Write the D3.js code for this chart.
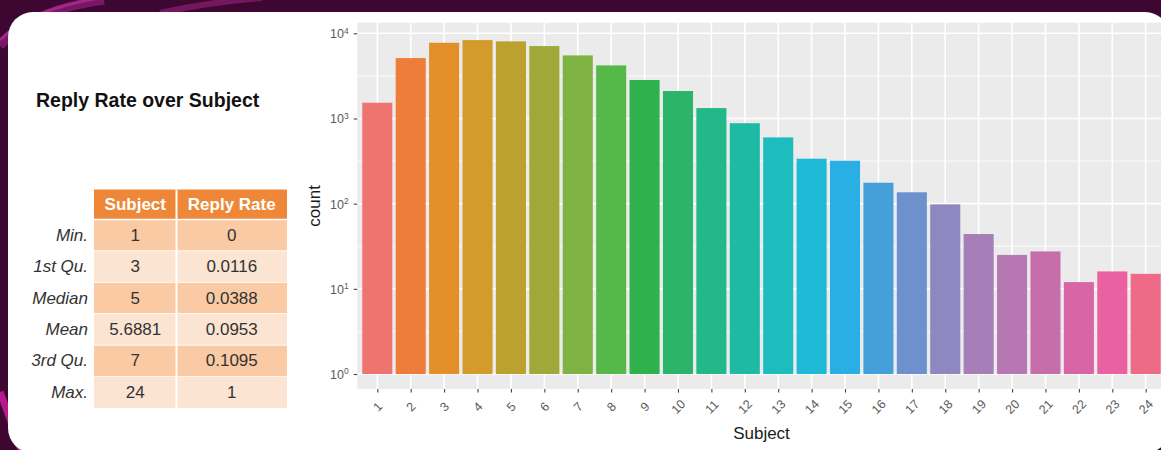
<!DOCTYPE html>
<html>
<head>
<meta charset="utf-8">
<script src="https://cdn.jsdelivr.net/npm/d3@7"></script>
<style>
  html, body { margin: 0; padding: 0; background: #3E0731; }
  svg { display: block; font-family: "Liberation Sans", Arial, sans-serif; }
</style>
</head>
<body>
<svg id="chart" width="1161" height="450"></svg>
<script>
// ---------------- data ----------------
const subjects = ["1","2","3","4","5","6","7","8","9","10","11","12","13","14","15","16","17","18","19","20","21","22","23","24"];
const counts = [1530, 5120, 7740, 8320, 8040, 7080, 5500, 4200, 2830, 2100, 1325, 880, 600, 337, 319, 176, 136, 98, 44, 25, 27.5, 12, 16, 15];
const yTickValues = [1, 10, 100, 1000, 10000];
const yTickExponents = ["0", "1", "2", "3", "4"];

const chartTitle = "Reply Rate over Subject";
const tableHeader = ["Subject", "Reply Rate"];
const statLabels = ["Min.", "1st Qu.", "Median", "Mean", "3rd Qu.", "Max."];
const statSubject = ["1", "3", "5", "5.6881", "7", "24"];
const statReply = ["0", "0.0116", "0.0388", "0.0953", "0.1095", "1"];

// bar colours as seen in the picture (ggplot hue palette, slightly muted)
const palette = ["#EF7470", "#EE7D3B", "#E3902A", "#D29B2B", "#BBA130", "#A0A83A",
                 "#7EB243", "#55B848", "#2FB24D", "#2BB46A", "#23B78A", "#1EBAA4",
                 "#1CBDBC", "#1FBAD6", "#2AAFE4", "#45A0DA", "#6D91CD", "#8F87C0",
                 "#A67EB8", "#B777B2", "#C66EAA", "#D866A6", "#EA60A0", "#EE6A86"];

// ---------------- svg ----------------
const svg = d3.select("#chart");
const W = 1161, H = 450;

// background decoration
svg.append("rect").attr("width", W).attr("height", H).attr("fill", "#3E0731");
svg.append("path").attr("d", "M0,46 C18,24 48,8 104,0").attr("fill", "none")
  .attr("stroke", "#7E1A69").attr("stroke-width", 9).attr("opacity", 0.9);
svg.append("path").attr("d", "M0,40 C20,20 50,6 100,-2").attr("fill", "none")
  .attr("stroke", "#A3288A").attr("stroke-width", 3);
svg.append("path").attr("d", "M160,13 C195,5 225,1 262,-2").attr("fill", "none")
  .attr("stroke", "#73175F").attr("stroke-width", 6);
svg.append("path").attr("d", "M0,392 C8,412 14,432 22,452").attr("fill", "none")
  .attr("stroke", "#B8198A").attr("stroke-width", 7);

// white card
svg.append("rect").attr("x", 8).attr("y", 12).attr("width", 1162).attr("height", 441)
  .attr("rx", 25).attr("fill", "#FFFFFF");

// ---------------- title ----------------
svg.append("text").attr("x", 36).attr("y", 107)
  .attr("font-size", 19.5).attr("font-weight", "bold").attr("fill", "#111")
  .text(chartTitle);

// ---------------- summary table ----------------
const tX0 = 94, tX1 = 176.5, tX2 = 287;
const headerTop = 189.5, headerH = 30, rowH = 31.4;
const tbl = svg.append("g");
tbl.append("rect").attr("x", tX0).attr("y", headerTop).attr("width", tX2 - tX0).attr("height", headerH)
  .attr("fill", "#EE8838");
tableHeader.forEach((h, i) => {
  const cx = i === 0 ? (tX0 + tX1) / 2 : (tX1 + tX2) / 2;
  tbl.append("text").attr("x", cx).attr("y", headerTop + headerH / 2)
    .attr("text-anchor", "middle").attr("dominant-baseline", "central")
    .attr("font-size", 17).attr("font-weight", "bold").attr("fill", "#FFFFFF").text(h);
});
statLabels.forEach((lab, i) => {
  const y0 = headerTop + headerH + i * rowH;
  tbl.append("rect").attr("x", tX0).attr("y", y0).attr("width", tX2 - tX0).attr("height", rowH)
    .attr("fill", i % 2 === 0 ? "#F9CAA3" : "#FCE4D2");
  tbl.append("text").attr("x", 88).attr("y", y0 + rowH / 2)
    .attr("text-anchor", "end").attr("dominant-baseline", "central")
    .attr("font-size", 17).attr("font-style", "italic").attr("fill", "#333").text(lab);
  tbl.append("text").attr("x", (tX0 + tX1) / 2).attr("y", y0 + rowH / 2)
    .attr("text-anchor", "middle").attr("dominant-baseline", "central")
    .attr("font-size", 17).attr("fill", "#333").text(statSubject[i]);
  tbl.append("text").attr("x", (tX1 + tX2) / 2).attr("y", y0 + rowH / 2)
    .attr("text-anchor", "middle").attr("dominant-baseline", "central")
    .attr("font-size", 17).attr("fill", "#333").text(statReply[i]);
  if (i > 0) {
    tbl.append("line").attr("x1", tX0).attr("x2", tX2).attr("y1", y0).attr("y2", y0)
      .attr("stroke", "#FFF3EA").attr("stroke-width", 1.2);
  }
});
tbl.append("line").attr("x1", tX1).attr("x2", tX1).attr("y1", headerTop)
  .attr("y2", headerTop + headerH + statLabels.length * rowH)
  .attr("stroke", "#FFFFFF").attr("stroke-width", 2);
tbl.append("line").attr("x1", tX0).attr("x2", tX2).attr("y1", headerTop + headerH).attr("y2", headerTop + headerH)
  .attr("stroke", "#FFFFFF").attr("stroke-width", 1.5);

// ---------------- bar chart ----------------
const firstX = 377.3, lastX = 1145.7;
const x = d3.scalePoint().domain(subjects).range([firstX, lastX]);
const step = x.step();
const panelLeft = firstX - 0.6 * step, panelRight = lastX + 0.6 * step;
const panelTop = 22.7, panelBottom = 389;
const y = d3.scaleLog().domain([Math.pow(10, -0.176), Math.pow(10, 4.1245)]).range([panelBottom, panelTop]);

const plot = svg.append("g");
plot.append("rect").attr("x", panelLeft).attr("y", panelTop)
  .attr("width", panelRight - panelLeft).attr("height", panelBottom - panelTop).attr("fill", "#EBEBEB");

// minor horizontal gridlines (half decades)
const minorVals = yTickValues.slice(0, -1).map(v => v * Math.sqrt(10));
plot.selectAll("line.minor").data(minorVals).join("line").attr("class", "minor")
  .attr("x1", panelLeft).attr("x2", panelRight).attr("y1", d => y(d)).attr("y2", d => y(d))
  .attr("stroke", "#FFFFFF").attr("stroke-width", 0.8);
// major horizontal gridlines
plot.selectAll("line.majorh").data(yTickValues).join("line").attr("class", "majorh")
  .attr("x1", panelLeft).attr("x2", panelRight).attr("y1", d => y(d)).attr("y2", d => y(d))
  .attr("stroke", "#FFFFFF").attr("stroke-width", 1.6);
// vertical gridlines
plot.selectAll("line.majorv").data(subjects).join("line").attr("class", "majorv")
  .attr("x1", d => x(d)).attr("x2", d => x(d)).attr("y1", panelTop).attr("y2", panelBottom)
  .attr("stroke", "#FFFFFF").attr("stroke-width", 1.6);

// bars
const barW = step * 0.9;
plot.selectAll("rect.bar").data(subjects).join("rect").attr("class", "bar")
  .attr("x", d => x(d) - barW / 2)
  .attr("width", barW)
  .attr("y", (d, i) => y(counts[i]))
  .attr("height", (d, i) => y(1) - y(counts[i]))
  .attr("fill", (d, i) => palette[i]);

// axes
const yAxis = d3.axisLeft(y).tickValues(yTickValues).tickSize(3.6).tickPadding(3.5).tickFormat(() => "");
const yg = svg.append("g").attr("transform", `translate(${panelLeft},0)`).call(yAxis);
yg.select(".domain").remove();
yg.selectAll(".tick line").attr("stroke", "#444").attr("stroke-width", 1.1);
yg.selectAll(".tick text").each(function (d, i) {
  const t = d3.select(this);
  t.attr("font-size", 12.5).attr("fill", "#5A5A5A").attr("font-family", "Liberation Sans, Arial, sans-serif")
    .attr("dy", "0.36em").attr("x", -8.5);
  t.append("tspan").text("10");
  t.append("tspan").attr("font-size", 8.5).attr("dy", "-0.55em").text(yTickExponents[i]);
});

const xAxis = d3.axisBottom(x).tickSize(3.6).tickPadding(2);
const xg = svg.append("g").attr("transform", `translate(0,${panelBottom})`).call(xAxis);
xg.select(".domain").remove();
xg.selectAll(".tick line").attr("stroke", "#444").attr("stroke-width", 1.1);
xg.selectAll(".tick text")
  .attr("font-size", 12.5).attr("fill", "#5A5A5A").attr("font-family", "Liberation Sans, Arial, sans-serif")
  .attr("text-anchor", "middle").attr("dominant-baseline", "central")
  .attr("y", 0).attr("dy", null)
  .attr("transform", "translate(0,18) rotate(-45)");

// axis titles
svg.append("text").attr("x", (panelLeft + panelRight) / 2).attr("y", 433)
  .attr("text-anchor", "middle").attr("dominant-baseline", "central")
  .attr("font-size", 17).attr("fill", "#1A1A1A").text("Subject");
svg.append("text").attr("transform", `translate(314,${(panelTop + panelBottom) / 2}) rotate(-90)`)
  .attr("text-anchor", "middle").attr("dominant-baseline", "central")
  .attr("font-size", 17).attr("fill", "#1A1A1A").text("count");
</script>
</body>
</html>
